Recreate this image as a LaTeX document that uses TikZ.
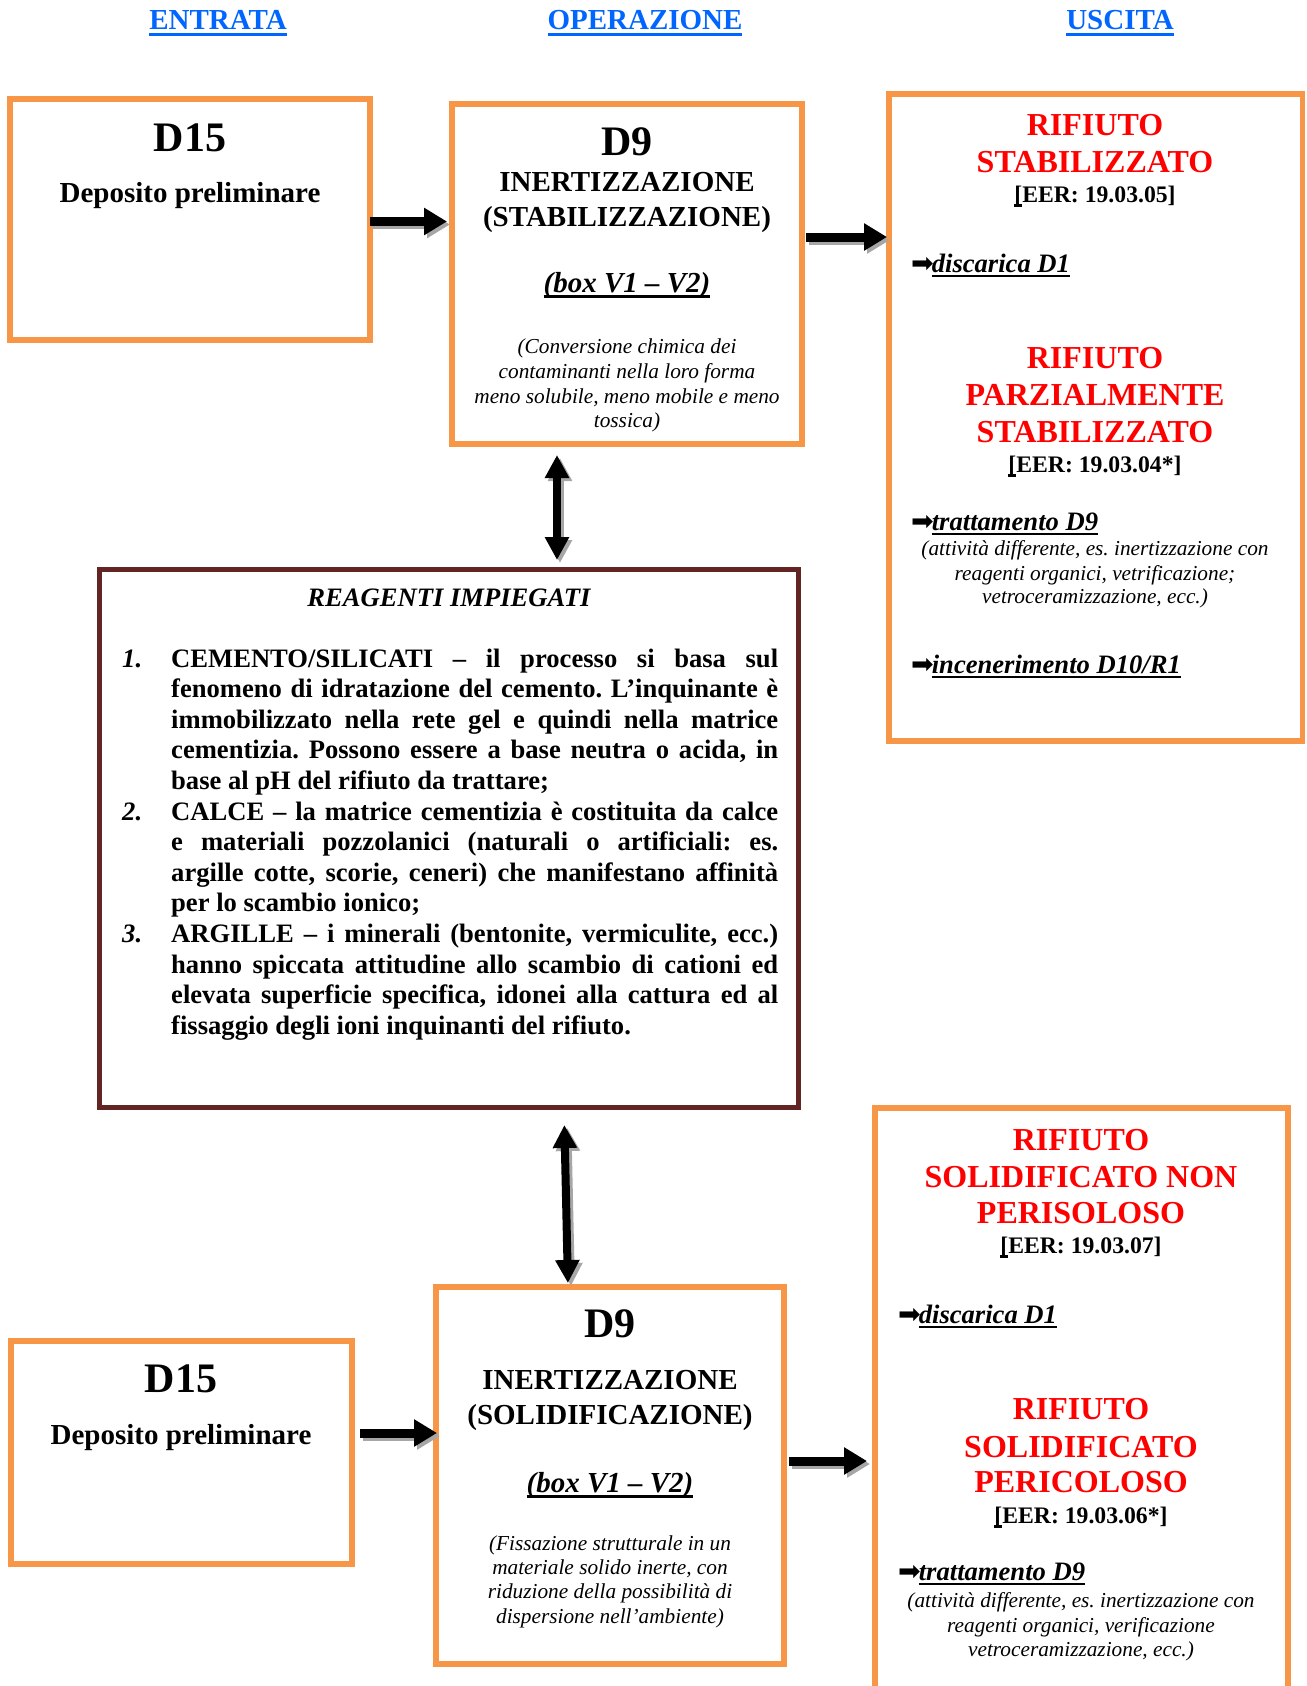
\documentclass[tikz,border=0pt]{standalone}
\usepackage{fontspec}
\setmainfont{Liberation Serif}
\newfontfamily\arrowglyphfont{DejaVu Sans}
\usetikzlibrary{arrows.meta}
\frenchspacing

\definecolor{boxorange}{HTML}{F79646}
\definecolor{reagbrown}{HTML}{632523}
\definecolor{headblue}{HTML}{0066FF}
\definecolor{wastered}{HTML}{FF0000}

\newcommand{\fs}[2]{\fontsize{#1}{#2}\selectfont}
\newsavebox{\ulbox}
\newcommand{\ulx}[1]{\sbox{\ulbox}{#1}\rlap{\rule[-0.2em]{\wd\ulbox}{0.1em}}\usebox{\ulbox}}
\newcommand{\jl}[1]{\makebox[\linewidth][s]{#1}}
\newcommand{\toarrow}{{\arrowglyphfont\fs{27}{27}\mdseries\upshape\kern-1pt ➡\kern-2pt}}
% a connector with its grey drop shadow
\newcommand{\shadedlink}[3]{%
  \draw[#1, draw=black!35, transform canvas={shift={(3pt,-3pt)}}] #2 -- #3;
  \draw[#1] #2 -- #3;}

\tikzset{
  obox/.style={rectangle, draw=boxorange, line width=5.5pt, inner sep=0pt, outer sep=0pt},
  rbox/.style={rectangle, draw=reagbrown, line width=5pt, inner sep=0pt, outer sep=0pt},
  txt/.style={inner sep=0pt, anchor=base},
  lefttxt/.style={inner sep=0pt, anchor=base west},
  headline/.style={txt, text=headblue, font=\fs{29}{29}\bfseries},
  bigcode/.style={txt, font=\fs{42}{42}\bfseries},
  subline/.style={txt, font=\fs{29}{29}\bfseries},
  noteline/.style={txt, font=\fs{21.3}{21.3}\itshape},
  wastetitle/.style={txt, text=wastered, font=\fs{32}{32}\bfseries},
  eercode/.style={txt, font=\fs{23.7}{23.7}\bfseries},
  destline/.style={lefttxt, font=\fs{26.6}{26.6}\bfseries\itshape},
  bigarrow/.style={draw=black, line width=9pt, -{Triangle[length=23pt,width=26pt]}},
  dblarrow/.style={draw=black, line width=8pt,
    {Triangle[length=23pt,width=23pt]}-{Triangle[length=23pt,width=23pt]}}
}

\begin{document}
\begin{tikzpicture}[x=1pt,y=-1pt]
\path[use as bounding box, fill=white] (0,0) rectangle (1306,1686);

% column headings
\node[headline] (hent) at (218,30) {\ulx{ENTRATA}};
\node[headline] (hope) at (645,30) {\ulx{OPERAZIONE}};
\node[headline] (husc) at (1120,30) {\ulx{USCITA}};

% boxes
\node[obox, minimum width=360pt, minimum height=241pt] (d15a) at (190,219.5) {};
\node[obox, minimum width=350pt, minimum height=340pt] (d9a) at (627,274) {};
\node[obox, minimum width=413.5pt, minimum height=647pt] (outa) at (1095.75,417.5) {};
\node[rbox, minimum width=699pt, minimum height=538pt] (reag) at (449,838.5) {};
\node[obox, minimum width=341pt, minimum height=223pt] (d15b) at (181.5,1452.5) {};
\node[obox, minimum width=348pt, minimum height=377pt] (d9b) at (610,1475.5) {};
\node[obox, minimum width=413pt, minimum height=612pt] (outb) at (1081.5,1414) {};

% preliminary storage (top)
\node[bigcode] (d15atit) at (190,151) {D15};
\node[subline] (d15asub) at (190,202) {Deposito preliminare};

% stabilisation step
\node[bigcode] (d9atit) at (627,155) {D9};
\node[subline] (d9al1) at (627,191) {INERTIZZAZIONE};
\node[subline] (d9al2) at (627,226) {(STABILIZZAZIONE)};
\node[subline, font=\fs{29}{29}\bfseries\itshape] (d9abox) at (627,292) {\ulx{(box V1 – V2)}};
\node[noteline] (d9an1) at (627,353) {(Conversione chimica dei};
\node[noteline] (d9an2) at (627,378) {contaminanti nella loro forma};
\node[noteline] (d9an3) at (627,403) {meno solubile, meno mobile e meno};
\node[noteline] (d9an4) at (627,427) {tossica)};

% outputs of stabilisation
\node[wastetitle] (oa1) at (1095,135) {RIFIUTO};
\node[wastetitle] (oa2) at (1095,172) {STABILIZZATO};
\node[eercode] (oa3) at (1095,202) {\ulx{[}EER: 19.03.05]};
\node[destline] (oa4) at (912,272) {\toarrow\ulx{discarica D1}};
\node[wastetitle] (oa5) at (1095,368) {RIFIUTO};
\node[wastetitle] (oa6) at (1095,405) {PARZIALMENTE};
\node[wastetitle] (oa7) at (1095,442) {STABILIZZATO};
\node[eercode] (oa8) at (1095,472) {\ulx{[}EER: 19.03.04*]};
\node[destline] (oa9) at (912,530) {\toarrow\ulx{trattamento D9}};
\node[noteline] (oa10) at (1095,555) {(attività differente, es. inertizzazione con};
\node[noteline] (oa11) at (1095,580) {reagenti organici, vetrificazione;};
\node[noteline] (oa12) at (1095,603) {vetroceramizzazione, ecc.)};
\node[destline] (oa13) at (912,673) {\toarrow\ulx{incenerimento D10/R1}};

% reagents
\node[txt, font=\fs{26.6}{26.6}\bfseries\itshape] (rtit) at (449,606) {REAGENTI IMPIEGATI};
\node[lefttxt, font=\fs{26.6}{26.6}\bfseries\itshape] (rn1) at (122,667) {1.};
\node[lefttxt, font=\fs{26.6}{26.6}\bfseries\itshape] (rn2) at (122,820) {2.};
\node[lefttxt, font=\fs{26.6}{26.6}\bfseries\itshape] (rn3) at (122,942.4) {3.};
\node[lefttxt] (rlist) at (171,667) {\parbox[t]{607pt}{\fs{26.6}{30.6}\bfseries
\jl{CEMENTO/SILICATI – il processo si basa sul}\\
\jl{fenomeno di idratazione del cemento. L’inquinante è}\\
\jl{immobilizzato nella rete gel e quindi nella matrice}\\
\jl{cementizia. Possono essere a base neutra o acida, in}\\
base al pH del rifiuto da trattare;\\
\jl{CALCE – la matrice cementizia è costituita da calce}\\
\jl{e materiali pozzolanici (naturali o artificiali: es.}\\
\jl{argille cotte, scorie, ceneri) che manifestano affinità}\\
per lo scambio ionico;\\
\jl{ARGILLE – i minerali (bentonite, vermiculite, ecc.)}\\
\jl{hanno spiccata attitudine allo scambio di cationi ed}\\
\jl{elevata superficie specifica, idonei alla cattura ed al}\\
fissaggio degli ioni inquinanti del rifiuto.}};

% preliminary storage (bottom)
\node[bigcode] (d15btit) at (181,1392) {D15};
\node[subline] (d15bsub) at (181,1444) {Deposito preliminare};

% solidification step
\node[bigcode] (d9btit) at (610,1337) {D9};
\node[subline] (d9bl1) at (610,1389) {INERTIZZAZIONE};
\node[subline] (d9bl2) at (610,1424) {(SOLIDIFICAZIONE)};
\node[subline, font=\fs{29}{29}\bfseries\itshape] (d9bbox) at (610,1492) {\ulx{(box V1 – V2)}};
\node[noteline] (d9bn1) at (610,1550) {(Fissazione strutturale in un};
\node[noteline] (d9bn2) at (610,1574) {materiale solido inerte, con};
\node[noteline] (d9bn3) at (610,1598) {riduzione della possibilità di};
\node[noteline] (d9bn4) at (610,1623) {dispersione nell’ambiente)};

% outputs of solidification
\node[wastetitle] (ob1) at (1081,1150) {RIFIUTO};
\node[wastetitle] (ob2) at (1081,1187) {SOLIDIFICATO NON};
\node[wastetitle] (ob3) at (1081,1223) {PERISOLOSO};
\node[eercode] (ob4) at (1081,1253) {\ulx{[}EER: 19.03.07]};
\node[destline] (ob5) at (899,1323) {\toarrow\ulx{discarica D1}};
\node[wastetitle] (ob6) at (1081,1419) {RIFIUTO};
\node[wastetitle] (ob7) at (1081,1457) {SOLIDIFICATO};
\node[wastetitle] (ob8) at (1081,1492) {PERICOLOSO};
\node[eercode] (ob9) at (1081,1523) {\ulx{[}EER: 19.03.06*]};
\node[destline] (ob10) at (899,1580) {\toarrow\ulx{trattamento D9}};
\node[noteline] (ob11) at (1081,1607) {(attività differente, es. inertizzazione con};
\node[noteline] (ob12) at (1081,1632) {reagenti organici, verificazione};
\node[noteline] (ob13) at (1081,1656) {vetroceramizzazione, ecc.)};

% connectors
\coordinate (ya1) at (0,221.5);
\coordinate (ya2) at (0,237);
\coordinate (ya3) at (0,1433);
\coordinate (ya4) at (0,1461);
\coordinate (xv1) at (557,0);
\coordinate (xv2t) at (564,0);
\coordinate (xv2b) at (568,0);
\shadedlink{bigarrow, shorten >=5pt}{(d15a.east |- ya1)}{(d9a.west |- ya1)}
\shadedlink{bigarrow, shorten <=4pt, shorten >=2pt}{(d9a.east |- ya2)}{(outa.west |- ya2)}
\shadedlink{bigarrow, shorten <=8pt, shorten >=-1pt}{(d15b.east |- ya3)}{(d9b.west |- ya3)}
\shadedlink{bigarrow, shorten <=5pt, shorten >=8pt}{(d9b.east |- ya4)}{(outb.west |- ya4)}
\shadedlink{dblarrow, shorten <=11pt, shorten >=9.5pt}{(d9a.south -| xv1)}{(reag.north -| xv1)}
\shadedlink{dblarrow, shorten <=17.5pt, shorten >=4pt}{(reag.south -| xv2t)}{(d9b.north -| xv2b)}
\end{tikzpicture}
\end{document}
